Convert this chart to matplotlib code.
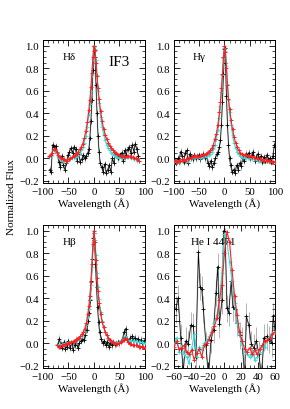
import matplotlib
matplotlib.use("Agg")
import matplotlib.pyplot as plt
from matplotlib.ticker import MultipleLocator

plt.rcParams["font.family"] = ["Liberation Serif", "DejaVu Serif"]
plt.rcParams["mathtext.fontset"] = "stix"

# ---- H delta ----
X_HD_MOD = [-88, -85, -82, -79, -76, -73, -70, -67, -64, -61, -58, -55, -52, -49, -46, -43, -40,
            -37, -34, -31, -28, -25, -22, -19, -16, -13, -10,
            -8, -6, -4, -2, 0, 2, 4, 6, 8, 10,
            13, 16, 19, 22, 25, 28, 31, 34, 37, 40, 43, 46, 49, 52, 55, 58, 61, 64, 67, 70,
            73, 76, 79, 82, 85, 88]
Y_HD_RED = [0.02, 0.03, 0.05, 0.08, 0.08, 0.06, 0.03, 0.01, 0.00, -0.01, -0.01, -0.02, -0.02, -0.01,
            0.00, 0.01, 0.02, 0.03, 0.04, 0.06, 0.08, 0.10, 0.13, 0.18, 0.24, 0.32, 0.43,
            0.52, 0.63, 0.76, 0.90, 1.00, 0.96, 0.85, 0.73, 0.62, 0.53,
            0.42, 0.33, 0.26, 0.21, 0.17, 0.14, 0.11, 0.09, 0.07, 0.06, 0.05, 0.04, 0.03, 0.02,
            0.02, 0.01, 0.01, 0.02, 0.02, 0.02, 0.01, 0.01, 0.00, 0.00, -0.01, -0.02]
Y_HD_CYAN = [0.01, 0.02, 0.05, 0.07, 0.07, 0.05, 0.02, 0.00, -0.01, -0.02, -0.02, -0.02, -0.02, -0.01,
             -0.01, 0.00, 0.00, 0.01, 0.02, 0.03, 0.05, 0.07, 0.10, 0.14, 0.20, 0.28, 0.39,
             0.48, 0.60, 0.74, 0.88, 0.99, 0.97, 0.87, 0.74, 0.60, 0.49,
             0.37, 0.28, 0.21, 0.16, 0.12, 0.09, 0.07, 0.05, 0.04, 0.03, 0.02, 0.01, 0.00, 0.00,
             0.00, 0.00, 0.00, 0.01, 0.01, 0.01, 0.00, 0.00, -0.01, -0.01, -0.02, -0.02]
X_HD_OBS = [-87, -84, -81, -78, -75, -72, -69, -66, -63, -60, -57, -54, -51, -48, -45, -42, -39,
            -36, -33, -30, -27, -24, -21, -18, -15, -12,
            -10, -8, -6, -4, -2, 0, 1, 2, 4, 6, 8, 10, 12,
            15, 18, 21, 24, 27, 30, 33, 36, 39, 42, 45, 48, 51, 54, 57, 60, 63, 66, 69, 72,
            75, 78, 81, 84, 87]
Y_HD_OBS = [-0.10, -0.12, 0.12, 0.10, 0.11, 0.05, -0.03, -0.08, 0.02, -0.06, -0.10, -0.04, 0.03,
            0.06, 0.09, 0.05, 0.10, 0.08, -0.02, 0.04, -0.03, -0.01, 0.03, 0.00, 0.02, 0.05,
            0.08, 0.18, 0.33, 0.52, 0.78, 0.95, 1.00, 0.90, 0.65, 0.40, 0.20, 0.06, -0.04,
            -0.08, -0.12, -0.05, -0.13, -0.10, -0.06, -0.12, 0.00, -0.04, 0.04, 0.02, 0.00,
            0.03, 0.05, -0.02, 0.07, 0.03, 0.08, 0.10, 0.05, 0.12, 0.06, 0.13, 0.08, 0.02]

# ---- H gamma ----
X_HG_MOD = [-100, -97, -94, -91, -88, -85, -82, -79, -76, -73, -70, -67, -64, -61, -58, -55, -52,
            -49, -46, -43, -40, -37, -34, -31, -28, -25, -22, -19, -16, -13, -10,
            -8, -6, -4, -2, 0, 2, 4, 6, 8, 10,
            13, 16, 19, 22, 25, 28, 31, 34, 37, 40, 43, 46, 49, 52, 55, 58, 61, 64, 67, 70,
            73, 76, 79, 82, 85, 88, 91, 94, 97, 100]
Y_HG_RED = [-0.02, -0.02, -0.03, -0.02, -0.02, -0.01, -0.02, -0.02, -0.01, -0.01, 0.00, 0.00, 0.01,
            0.02, 0.02, 0.02, 0.01, 0.02, 0.03, 0.03, 0.03, 0.04, 0.05, 0.06, 0.07, 0.09, 0.12,
            0.17, 0.22, 0.30, 0.41,
            0.50, 0.62, 0.75, 0.90, 1.00, 0.94, 0.80, 0.65, 0.53, 0.44,
            0.34, 0.26, 0.19, 0.14, 0.10, 0.07, 0.05, 0.04, 0.03, 0.03, 0.03, 0.02, 0.02, 0.02,
            0.01, 0.01, 0.00, 0.00, -0.01, -0.01, -0.01, -0.02, -0.02, -0.01, -0.02, -0.02,
            -0.02, -0.03, -0.03, -0.03]
Y_HG_CYAN = [-0.03, -0.03, -0.03, -0.03, -0.03, -0.02, -0.02, -0.02, -0.02, -0.02, -0.01, -0.01,
             0.00, 0.00, 0.01, 0.01, 0.00, 0.00, 0.01, 0.01, 0.01, 0.02, 0.02, 0.03, 0.04, 0.06,
             0.08, 0.12, 0.17, 0.25, 0.36,
             0.46, 0.59, 0.74, 0.89, 0.98, 0.95, 0.82, 0.66, 0.52, 0.41,
             0.30, 0.21, 0.14, 0.09, 0.06, 0.04, 0.02, 0.01, 0.01, 0.00, 0.00, 0.00, 0.00, 0.00,
             -0.01, -0.01, -0.01, -0.01, -0.02, -0.02, -0.02, -0.02, -0.02, -0.02, -0.02, -0.03,
             -0.03, -0.03, -0.03, -0.03]
X_HG_OBS = [-99, -96, -93, -90, -87, -84, -81, -78, -75, -72, -69, -66, -63, -60, -57, -54, -51,
            -48, -45, -42, -39, -36, -33, -30, -27, -24, -21, -18, -15, -12,
            -10, -8, -6, -4, -2, 0, 1, 2, 4, 6, 8, 10, 12,
            15, 18, 21, 24, 27, 30, 33, 36, 39, 42, 45, 48, 51, 54, 57, 60, 63, 66, 69, 72,
            75, 78, 81, 84, 87, 90, 93, 96, 99]
Y_HG_OBS = [-0.02, -0.04, 0.00, -0.03, 0.06, 0.02, -0.03, 0.05, 0.07, -0.04, 0.04, 0.01, -0.01,
            0.03, 0.00, 0.02, 0.03, -0.01, 0.02, 0.04, 0.00, 0.03, -0.04, -0.07, -0.02, -0.08,
            -0.04, 0.00, 0.04, 0.06,
            0.10, 0.16, 0.30, 0.50, 0.75, 0.97, 0.98, 0.85, 0.55, 0.30, 0.12, 0.00, -0.06,
            -0.12, -0.10, -0.13, -0.06, -0.10, -0.04, -0.07, 0.00, -0.02, 0.04, 0.02, 0.05,
            0.00, 0.03, 0.06, -0.02, 0.01, 0.04, -0.01, 0.02, -0.03, 0.01, -0.02, 0.03, -0.01,
            0.00, -0.03, 0.02, 0.12]

# ---- H beta ----
X_HB_MOD = [-72, -69, -66, -63, -60, -57, -54, -51, -48, -45, -42, -39, -36, -33, -30, -27, -24,
            -21, -18, -15, -12,
            -10, -8, -6, -4, -2, 0, 2, 4, 6, 8, 10,
            13, 16, 19, 22, 25, 28, 31, 34, 37, 40, 43, 46, 49, 52, 55, 58, 61, 64, 67, 70,
            73, 76, 79, 82, 85, 88, 91, 94, 97, 100]
Y_HB_RED = [-0.02, -0.03, -0.03, -0.02, -0.02, -0.01, -0.01, 0.00, 0.00, 0.01, 0.01, 0.02, 0.03,
            0.04, 0.05, 0.06, 0.08, 0.10, 0.13, 0.18, 0.26,
            0.33, 0.42, 0.54, 0.70, 0.88, 1.00, 0.90, 0.74, 0.58, 0.46, 0.36,
            0.26, 0.19, 0.14, 0.10, 0.07, 0.05, 0.03, 0.02, 0.01, 0.00, -0.01, -0.01, 0.00,
            0.01, 0.02, 0.03, 0.05, 0.04, 0.01, -0.01, -0.01, -0.02, -0.02, -0.02, -0.02,
            -0.03, -0.03, -0.03, -0.03, -0.04]
Y_HB_CYAN = [-0.01, -0.02, -0.02, -0.01, -0.01, 0.00, 0.00, 0.00, 0.01, 0.01, 0.01, 0.02, 0.02,
             0.03, 0.04, 0.05, 0.06, 0.08, 0.11, 0.16, 0.23,
             0.30, 0.39, 0.52, 0.68, 0.86, 0.98, 0.92, 0.78, 0.62, 0.50, 0.39,
             0.28, 0.20, 0.14, 0.10, 0.07, 0.04, 0.03, 0.02, 0.01, 0.00, 0.00, 0.00, 0.01,
             0.02, 0.03, 0.04, 0.06, 0.05, 0.03, 0.02, 0.02, 0.02, 0.02, 0.02, 0.01, 0.01,
             0.01, 0.01, 0.00, 0.00]
X_HB_OBS = [-71, -68, -65, -62, -59, -56, -53, -50, -47, -44, -41, -38, -35, -32, -29, -26, -23,
            -20, -17, -14, -11,
            -9, -7, -5, -3, -1, 0, 1, 3, 5, 7, 9, 11,
            14, 17, 20, 23, 26, 29, 32, 35, 38, 41, 44, 47, 50, 53, 56, 59, 62, 65, 68, 71,
            74, 77, 80, 83, 86, 89, 92, 95, 98]
Y_HB_OBS = [-0.02, 0.04, -0.01, -0.04, 0.01, -0.05, -0.03, 0.02, -0.04, 0.00, -0.06, -0.02, 0.03,
            -0.04, 0.00, 0.02, 0.04, 0.03, 0.07, 0.12, 0.20,
            0.27, 0.38, 0.55, 0.75, 0.93, 0.98, 0.92, 0.70, 0.50, 0.32, 0.19, 0.10,
            0.04, 0.00, 0.02, -0.02, 0.01, -0.03, 0.00, -0.02, 0.01, -0.01, 0.00, 0.01, 0.00,
            0.02, 0.04, 0.10, 0.13, 0.03, 0.01, 0.05, 0.06, 0.03, 0.05, 0.02, 0.04, 0.01,
            0.03, 0.00, 0.02]

# ---- He I 4471 ----
X_HE_MOD = [-60, -57, -54, -51, -48, -45, -42, -39, -36, -33, -30, -27, -24, -21, -18, -15, -12,
            -9, -6, -3, 0, 3, 6, 9, 12, 15, 18, 21, 24, 27, 30, 33, 36, 39, 42, 45, 48, 51, 54,
            57, 60]
Y_HE_RED = [-0.03, 0.02, -0.05, -0.04, -0.02, -0.08, -0.10, -0.06, -0.15, -0.09, -0.05, -0.12,
            -0.02, 0.00, 0.04, 0.10, 0.15, 0.22, 0.38, 0.52, 0.80, 0.99, 0.90, 0.65, 0.42, 0.25,
            0.10, 0.02, -0.05, -0.08, -0.04, -0.10, -0.06, -0.10, -0.05, -0.02, 0.02, 0.03,
            0.05, 0.08, 0.10]
Y_HE_CYAN = [-0.02, 0.05, -0.08, -0.02, -0.10, -0.12, -0.18, -0.05, 0.08, -0.12, -0.03, -0.06,
             0.00, 0.02, 0.06, 0.10, 0.18, 0.25, 0.40, 0.62, 0.97, 0.90, 0.72, 0.55, 0.36, 0.18,
             0.08, -0.02, -0.08, -0.10, -0.12, -0.06, -0.15, -0.12, -0.08, -0.02, -0.03, 0.03,
             0.06, 0.09, 0.10]
X_HE_OBS = [-58, -55, -52, -49, -46, -43, -40, -37, -34, -31, -29, -27, -25, -22, -19, -16, -13,
            -10, -8, -6, -3, -1, 1, 3, 5, 8, 10, 13, 15, 18, 21, 24, 26, 29, 32, 35, 38, 41, 44,
            47, 50, 53, 56, 58, 60]
Y_HE_OBS = [0.30, 0.40, 0.05, -0.25, 0.02, -0.01, 0.16, 0.15, -0.12, 0.81, 0.50, 0.48, 0.30, -0.02,
            -0.30, 0.03, 0.12, 0.45, 0.68, 0.17, 0.38, 1.00, 0.90, 0.31, 0.27, 0.55, 0.32, 0.30,
            0.18, 0.07, 0.02, -0.30, 0.24, 0.16, -0.01, -0.04, 0.02, -0.10, -0.30, 0.05, 0.06,
            0.03, 0.00, 0.24, 0.12]

LINE_LABELS = ["H\u03b4", "H\u03b3", "H\u03b2", "He I 4471"]

panels = [
    (X_HD_OBS, Y_HD_OBS, X_HD_MOD, Y_HD_CYAN, Y_HD_RED, 0.03),
    (X_HG_OBS, Y_HG_OBS, X_HG_MOD, Y_HG_CYAN, Y_HG_RED, 0.03),
    (X_HB_OBS, Y_HB_OBS, X_HB_MOD, Y_HB_CYAN, Y_HB_RED, 0.03),
    (X_HE_OBS, Y_HE_OBS, X_HE_MOD, Y_HE_CYAN, Y_HE_RED, 0.12),
]

fig = plt.figure(figsize=(2.9, 4.1), dpi=100)
rects = [
    [0.148, 0.551, 0.352, 0.349],
    [0.600, 0.551, 0.348, 0.349],
    [0.148, 0.100, 0.352, 0.349],
    [0.600, 0.100, 0.348, 0.349],
]

for i, (rect, (xo, yo, xm, yc, yr, err)) in enumerate(zip(rects, panels)):
    ax = fig.add_axes(rect)
    ax.errorbar(xo, yo, yerr=err, fmt="none", ecolor="0.7", elinewidth=0.7, zorder=1)
    ax.plot(xo, yo, color="0.6", lw=1.2, alpha=0.4, zorder=1)
    ax.plot(xo, yo, color="black", lw=0.5, marker="+", ms=3, mew=0.6, zorder=2)
    ax.plot(xm, yc, color="#33dddd", lw=0.8, marker="+", ms=3, mew=0.6, zorder=3)
    ax.plot(xm, yr, color="#ff2020", lw=0.8, marker="+", ms=3.2, mew=0.7, zorder=4)

    if i == 3:
        ax.set_xlim(-60, 60)
        ax.xaxis.set_major_locator(MultipleLocator(20))
        ax.xaxis.set_minor_locator(MultipleLocator(5))
        ax.text(-40, 0.90, LINE_LABELS[i], fontsize=8, va="center", ha="left")
    else:
        ax.set_xlim(-100, 100)
        ax.xaxis.set_major_locator(MultipleLocator(50))
        ax.xaxis.set_minor_locator(MultipleLocator(10))
        ax.text(-62, 0.90, LINE_LABELS[i], fontsize=8, va="center", ha="left")
    ax.set_ylim(-0.22, 1.05)
    ax.yaxis.set_major_locator(MultipleLocator(0.2))
    ax.yaxis.set_minor_locator(MultipleLocator(0.05))
    ax.yaxis.set_major_formatter(plt.FuncFormatter(lambda v, p: f"{v:.1f}".replace("-", "\u2212")))
    ax.tick_params(which="both", direction="in", top=True, right=True, labelsize=7.8, pad=3)
    ax.tick_params(which="major", length=4, width=0.6)
    ax.tick_params(which="minor", length=2, width=0.5)
    for s in ax.spines.values():
        s.set_linewidth(0.7)
    ax.set_xlabel("Wavelength (\u00c5)", fontsize=8, labelpad=0.5)

    if i == 0:
        ax.text(50, 0.86, "IF3", fontsize=11, ha="center", va="center")

fig.text(0.04, 0.52, "Normalized Flux", rotation=90, fontsize=8, ha="center", va="center")

fig.savefig("out.png", dpi=100)
